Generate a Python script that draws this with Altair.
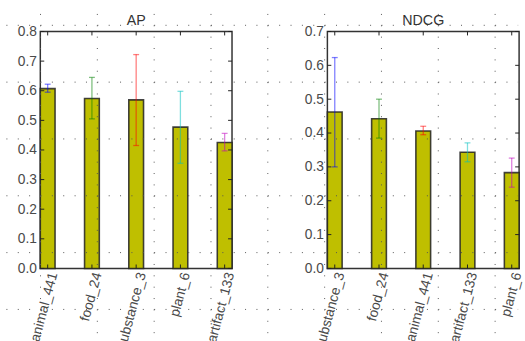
import altair as alt
import pandas as pd

# ---- data ----
AP_CATS = ["animal_441", "food_24", "substance_3", "plant_6", "artifact_133"]
AP_VALS = [0.607, 0.574, 0.569, 0.477, 0.425]
AP_LO = [0.595, 0.505, 0.415, 0.355, 0.397]
AP_HI = [0.622, 0.645, 0.722, 0.598, 0.456]
AP_TICKS = [0.0, 0.1, 0.2, 0.3, 0.4, 0.5, 0.6, 0.7, 0.8]

NDCG_CATS = ["substance_3", "food_24", "animal_441", "artifact_133", "plant_6"]
NDCG_VALS = [0.462, 0.442, 0.406, 0.343, 0.283]
NDCG_LO = [0.300, 0.385, 0.395, 0.315, 0.240]
NDCG_HI = [0.623, 0.500, 0.420, 0.371, 0.326]
NDCG_TICKS = [0.0, 0.1, 0.2, 0.3, 0.4, 0.5, 0.6, 0.7]

ERR_COLORS = ["#0000ff", "#008000", "#ff0000", "#00bfbf", "#bf00bf"]

# ---- layout / style ----
FIG_W, FIG_H = 525, 341
PW, PH = 195, 241
TOP = 27
LEFT1 = 39
GAP = 97
LEFT2 = LEFT1 + PW + GAP
STEP = 57.8
COL0, ROW0 = 39.2, 20.7
DOT = STEP / 5
FONT = "Liberation Sans"
TXT = "#4a4a4a"
BAR = "#bfbf00"
EDGE = "#222222"


def grid_layers(ox, gx0, gx1):
    rows = []
    y = ROW0
    while y < FIG_H:
        rows.append(y - TOP)
        y += STEP
    cols = []
    x = COL0
    while x < FIG_W:
        if gx0 <= x < gx1:
            cols.append(x - ox)
        x += STEP
    s0 = (COL0 - gx0) % DOT
    off_r = (DOT - s0) % DOT
    s1 = ROW0 % DOT
    off_c = (DOT - s1) % DOT
    row_l = alt.Chart(pd.DataFrame({"gy": rows})).mark_rule(
        color="#555555", strokeWidth=1, strokeDash=[1, DOT - 1], strokeDashOffset=off_r
    ).encode(
        y=alt.Y("gy:Q", scale=None, axis=None),
        x=alt.value(gx0 - ox),
        x2=alt.value(gx1 - ox),
    )
    col_l = alt.Chart(pd.DataFrame({"gx": cols})).mark_rule(
        color="#555555", strokeWidth=1, strokeDash=[1, DOT - 1], strokeDashOffset=off_c
    ).encode(
        x=alt.X("gx:Q", scale=None, axis=None),
        y=alt.value(-TOP),
        y2=alt.value(FIG_H - TOP),
    )
    return [row_l, col_l]


def panel(title, cats, vals, lo, hi, ticks, ymax, ox, gx0, gx1):
    df = pd.DataFrame({"cat": cats, "val": vals, "lo": lo, "hi": hi, "col": ERR_COLORS})
    xs = alt.Scale(domain=cats, paddingInner=2 / 3, paddingOuter=0)
    ys = alt.Scale(domain=[0, ymax], nice=False, zero=True)
    xax = alt.Axis(title=None, labelAngle=285, tickSize=0, domain=False,
                   labelFontSize=14, labelPadding=4, labelOffset=6, labelColor=TXT,
                   labelFont=FONT, labelLimit=200)
    yax = alt.Axis(title=None, values=ticks, format=".1f", tickSize=0,
                   domain=False, grid=False, labelFontSize=14,
                   labelPadding=4, labelColor=TXT, labelFont=FONT)

    def X(f):
        return alt.X(f, scale=xs, sort=cats, axis=xax)

    def Y(f):
        return alt.Y(f, scale=ys, axis=yax)

    base = alt.Chart(df)
    bars = base.mark_bar(fill=BAR, stroke=EDGE, strokeWidth=1.6, strokeOpacity=0.85).encode(
        x=X("cat:N"), y=Y("val:Q"))
    err = base.mark_rule(strokeWidth=1.3, opacity=0.5).encode(
        x=X("cat:N"), y=Y("lo:Q"), y2="hi:Q", color=alt.Color("col:N", scale=None))
    cap_lo = base.mark_tick(orient="horizontal", size=6, thickness=1.3, opacity=0.5).encode(
        x=X("cat:N"), y=Y("lo:Q"), color=alt.Color("col:N", scale=None))
    cap_hi = base.mark_tick(orient="horizontal", size=6, thickness=1.3, opacity=0.5).encode(
        x=X("cat:N"), y=Y("hi:Q"), color=alt.Color("col:N", scale=None))
    tdf = pd.DataFrame({"t": ticks})
    yt_l = alt.Chart(tdf).mark_rule(color=EDGE, strokeWidth=1).encode(
        y=Y("t:Q"), x=alt.value(0), x2=alt.value(4))
    yt_r = alt.Chart(tdf).mark_rule(color=EDGE, strokeWidth=1).encode(
        y=Y("t:Q"), x=alt.value(PW - 4), x2=alt.value(PW))
    xt_t = base.mark_rule(color=EDGE, strokeWidth=1).encode(
        x=X("cat:N"), y=alt.value(0), y2=alt.value(4))
    xt_b = base.mark_rule(color=EDGE, strokeWidth=1).encode(
        x=X("cat:N"), y=alt.value(PH - 4), y2=alt.value(PH))
    ttl = alt.Chart(pd.DataFrame({"t": [title]})).mark_text(
        fontSize=14.5, font=FONT, color="#333333", baseline="alphabetic", align="center"
    ).encode(text="t:N", x=alt.value(PW / 2), y=alt.value(-7))
    layers = [bars, err, cap_lo, cap_hi, yt_l, yt_r, xt_t, xt_b, ttl] + grid_layers(ox, gx0, gx1)
    return alt.layer(*layers).properties(width=PW, height=PH)


split = 282
left = panel("AP", AP_CATS, AP_VALS, AP_LO, AP_HI, AP_TICKS, 0.8, LEFT1, 0, split)
right = panel("NDCG", NDCG_CATS, NDCG_VALS, NDCG_LO, NDCG_HI, NDCG_TICKS, 0.7, LEFT2, split, FIG_W)

chart = alt.hconcat(left, right, spacing=GAP, bounds="flush").properties(
    padding=0, background="white"
).configure_view(stroke="#333333", strokeWidth=1.5)

chart.save("out.html", embed_options={"renderer": "svg", "actions": False})
